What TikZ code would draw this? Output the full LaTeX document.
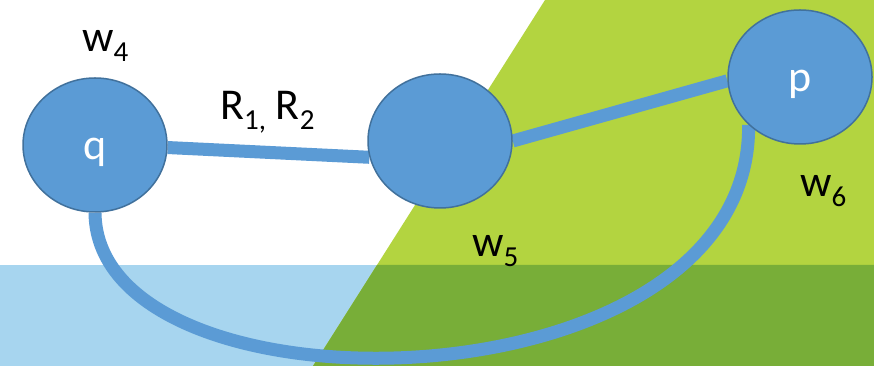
\documentclass[tikz,border=0pt]{standalone}
\usepackage{fontspec}
\setmainfont{Carlito}
\usetikzlibrary{shapes.geometric}
\definecolor{lgreen}{RGB}{179,212,64}
\definecolor{dgreen}{RGB}{120,174,56}
\definecolor{lblue}{RGB}{167,213,239}
\definecolor{nodeblue}{RGB}{91,155,213}
\definecolor{nodeedge}{RGB}{65,113,156}
\newcommand\mysub[1]{\raisebox{-0.22em}{\fontsize{29}{29}\selectfont #1}}
\tikzset{
  vert/.style={ellipse, draw=nodeedge, line width=1.5pt, fill=nodeblue,
    minimum width=144pt, minimum height=134pt, inner sep=0pt,
    text height=0pt, text depth=0pt,
    text=white, font=\fontsize{44}{44}\selectfont},
  link/.style={draw=nodeblue, line width=13pt},
  lbl/.style={anchor=base west, inner sep=0pt, font=\fontsize{44}{44}\selectfont, text=black}
}
\begin{document}
\begin{tikzpicture}[x=1pt,y=1pt]
\useasboundingbox (0,0) rectangle (874,366);
\clip (0,0) rectangle (874,366);
% background
\fill[white] (0,0) rectangle (874,366);
\fill[lblue] (0,0) rectangle (874,101);
\fill[lgreen] (545,366) -- (874,366) -- (874,0) -- (313,0) -- cycle;
\fill[dgreen] (377,101) -- (874,101) -- (874,0) -- (313,0) -- cycle;
% node positions
\path (95,221) coordinate (qc) (440,225) coordinate (mc) (800,289) coordinate (pc);
\node[vert, opacity=0] (q) at (qc) {};
\node[vert, opacity=0] (m) at (mc) {};
\node[vert, opacity=0] (p) at (pc) {};
% connectors
\draw[link] (q.-2) -- (m.193);
\draw[link] (m.east) -- (p.183);
\draw[link] (q.south) .. controls (97,-58) and (752,-48) .. (p.223);
% nodes on top
\node[vert] (q2) at (qc) {\raisebox{-15pt}{q}};
\node[vert] (m2) at (mc) {};
\node[vert] (p2) at (pc) {\raisebox{-15pt}{p}};
% labels
\node[lbl] (w4) at (82,314) {w\mysub{4}};
\node[lbl] (r12) at (220,246) {R\mysub{1,} R\mysub{2}};
\node[lbl] (w5) at (472,109) {w\mysub{5}};
\node[lbl] (w6) at (800,169) {w\mysub{6}};
\end{tikzpicture}
\end{document}
